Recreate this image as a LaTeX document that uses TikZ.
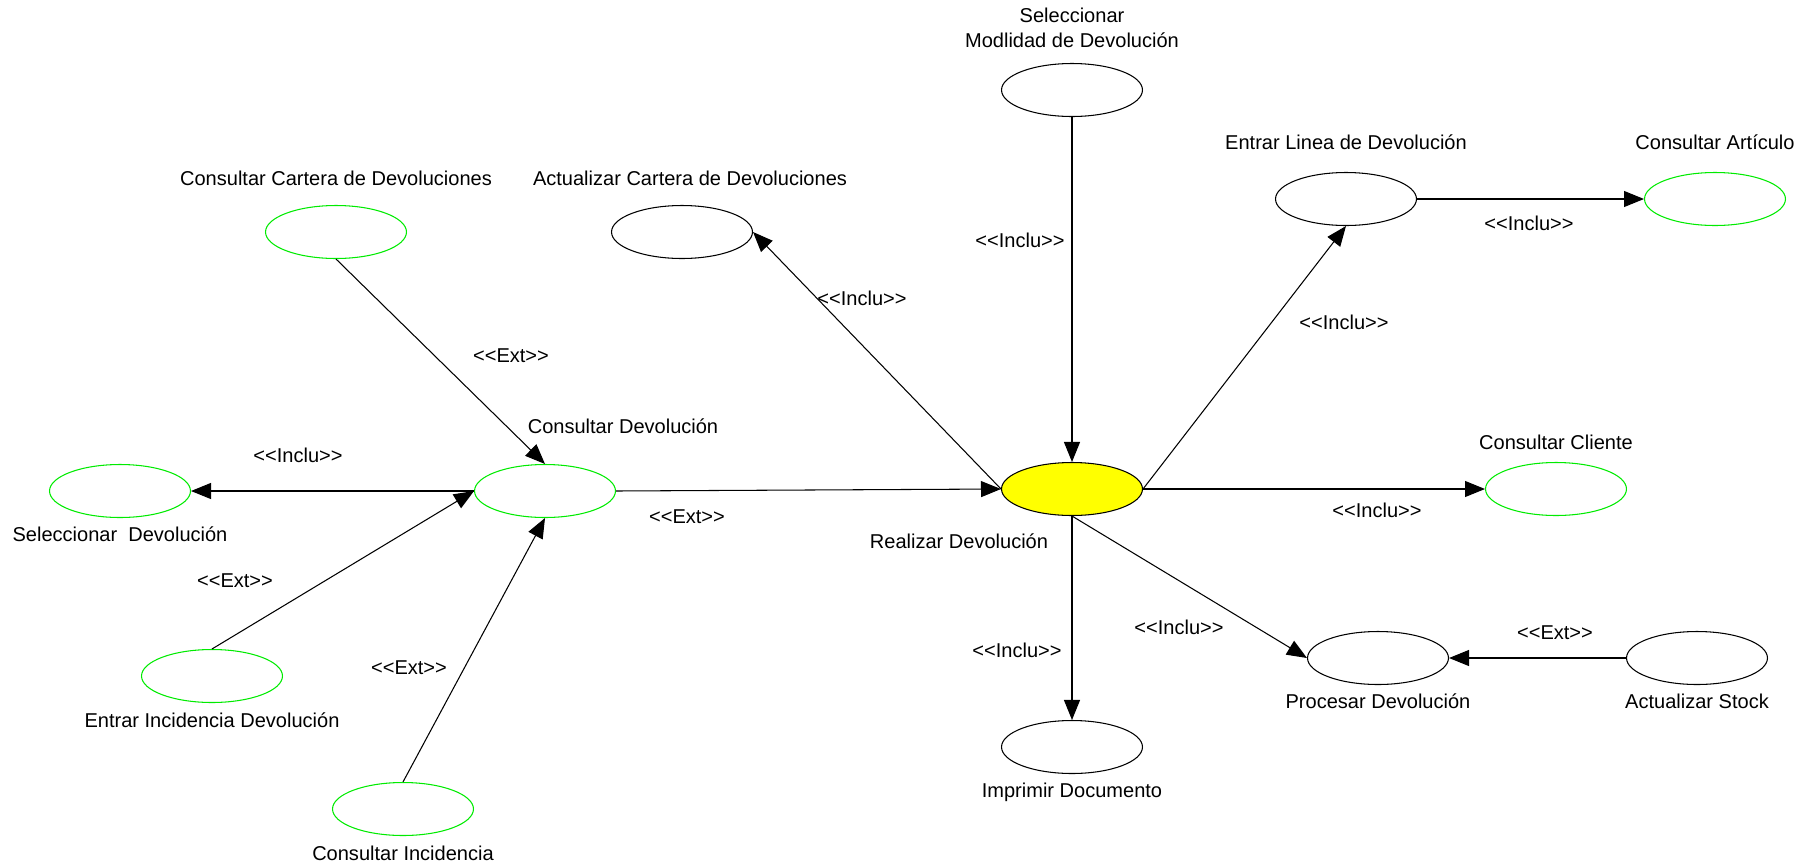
\documentclass[tikz,border=0pt]{standalone}
\usepackage{xcolor}
\usepackage{fontspec}
\setmainfont{Liberation Sans}
\usetikzlibrary{shapes.geometric,arrows.meta}
\definecolor{ucgreen}{RGB}{0,235,0}
\definecolor{ucyellow}{RGB}{255,255,0}
\newcommand{\stinc}{<{}<Inclu>{}>}
\newcommand{\stext}{<{}<Ext>{}>}

\begin{document}
\begin{tikzpicture}[x=0.02cm, y=-0.02cm,
    font=\fontsize{11.4}{14}\selectfont,
    usecase/.style={ellipse, draw, line width=0.6pt, minimum width=2.82cm, minimum height=1.06cm, inner sep=0pt},
    extcase/.style={usecase, draw=ucgreen},
    rel/.style={-{Triangle[length=0.4cm,width=0.32cm]}, line width=0.6pt},
    lbl/.style={inner sep=1pt}]
        \useasboundingbox (0,0) rectangle (1810,866);

        % casos de uso
        \node[usecase, fill=ucyellow] (rdev) at (1072,489) {};
        \node[extcase] (ccd) at (336,232) {};
        \node[usecase] (acd) at (682,232) {};
        \node[usecase] (smd) at (1072,90) {};
        \node[usecase] (eld) at (1346,199) {};
        \node[extcase] (cart) at (1715,199) {};
        \node[extcase] (cdev) at (545,491) {};
        \node[extcase] (sdev) at (120,491) {};
        \node[extcase] (ccli) at (1556,489) {};
        \node[extcase] (eid) at (212,676) {};
        \node[extcase] (cinc) at (403,809) {};
        \node[usecase] (pdev) at (1378,658) {};
        \node[usecase] (astk) at (1697,658) {};
        \node[usecase] (idoc) at (1072,747) {};

        % nombres
        \node[lbl] (rdevtxt) at (959,541) {Realizar Devoluci\'on};
        \node[lbl] (ccdtxt) at (336,178) {Consultar Cartera de Devoluciones};
        \node[lbl] (acdtxt) at (690,178) {Actualizar Cartera de Devoluciones};
        \node[lbl, align=center] (smdtxt) at (1072,28) {Seleccionar\\Modlidad de Devoluci\'on};
        \node[lbl] (eldtxt) at (1346,142) {Entrar Linea de Devoluci\'on};
        \node[lbl] (carttxt) at (1715,142) {Consultar Art\'iculo};
        \node[lbl] (cdevtxt) at (623,426) {Consultar Devoluci\'on};
        \node[lbl] (sdevtxt) at (120,534) {Seleccionar\ \ Devoluci\'on};
        \node[lbl] (cclitxt) at (1556,442) {Consultar Cliente};
        \node[lbl] (eidtxt) at (212,720) {Entrar Incidencia Devoluci\'on};
        \node[lbl] (cinctxt) at (403,853) {Consultar Incidencia};
        \node[lbl] (pdevtxt) at (1378,701) {Procesar Devoluci\'on};
        \node[lbl] (astktxt) at (1697,701) {Actualizar Stock};
        \node[lbl] (idoctxt) at (1072,792) {Imprimir Documento};

        % relaciones
        \draw[rel] (ccd.south) -- (cdev.north);
        \draw[rel] (cdev.west) -- (sdev.east);
        \draw[rel] (eid.north) -- (cdev.west);
        \draw[rel] (cinc.north) -- (cdev.south);
        \draw[rel] (cdev.east) -- (rdev.west);
        \draw[rel] (rdev.west) -- (acd.east);
        \draw[rel] (smd.south) -- (rdev.north);
        \draw[rel] (rdev.east) -- (eld.south);
        \draw[rel] (eld.east) -- (cart.west);
        \draw[rel] (rdev.east) -- (ccli.west);
        \draw[rel] (rdev.south) -- (pdev.west);
        \draw[rel] (rdev.south) -- (idoc.north);
        \draw[rel] (astk.west) -- (pdev.east);

        \node[lbl] (l1) at (511,356) {\stext};
        \node[lbl] (l2) at (298,455) {\stinc};
        \node[lbl] (l3) at (235,581) {\stext};
        \node[lbl] (l4) at (409,668) {\stext};
        \node[lbl] (l5) at (687,517) {\stext};
        \node[lbl] (l6) at (862,298) {\stinc};
        \node[lbl] (l7) at (1020,240) {\stinc};
        \node[lbl] (l8) at (1344,322) {\stinc};
        \node[lbl] (l9) at (1529,223) {\stinc};
        \node[lbl] (l10) at (1377,510) {\stinc};
        \node[lbl] (l11) at (1179,627) {\stinc};
        \node[lbl] (l12) at (1017,650) {\stinc};
        \node[lbl] (l13) at (1555,633) {\stext};
    \end{tikzpicture}
\end{document}
